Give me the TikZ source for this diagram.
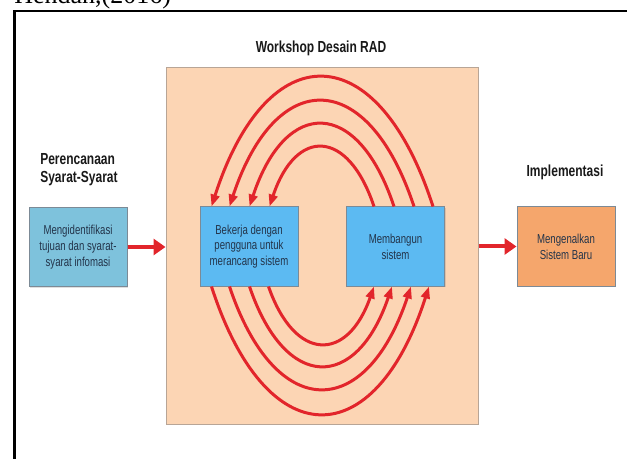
\documentclass[tikz,border=0pt]{standalone}
\usepackage{fontspec}
\setmainfont{Liberation Serif}
\newfontfamily\nf[FakeStretch=0.74]{Liberation Sans}
\newfontfamily\hf[FakeStretch=0.75]{Liberation Sans}
\usetikzlibrary{arrows.meta,calc,shadows}
\definecolor{peach}{HTML}{FCD5B4}
\definecolor{peachline}{HTML}{B8A596}
\definecolor{lblue}{HTML}{7EC2DC}
\definecolor{sky}{HTML}{5CBAF2}
\definecolor{orng}{HTML}{F5A66C}
\definecolor{boxline}{HTML}{7C8A96}
\definecolor{boxtext}{HTML}{23344A}
\definecolor{rad}{HTML}{E2252B}
\begin{document}
\begin{tikzpicture}[x=0.75pt,y=-0.75pt,
  box/.style={draw=boxline, line width=0.75pt, minimum width=73.5pt, minimum height=59.25pt,
    inner sep=0pt, align=center, font=\nf\fontsize{9.75}{11.8}\selectfont, text=boxtext,
    drop shadow={opacity=0.25, shadow xshift=1pt, shadow yshift=-1pt}},
  head/.style={font=\hf\bfseries\fontsize{12}{13.5}\selectfont, inner sep=0pt, text=black!90},
  arcline/.style={draw=rad, line width=2.25pt, -{Triangle[length=9pt,width=6.5pt]}},
  bigarrow/.style={draw=rad, line width=3pt, -{Triangle[length=9pt,width=12pt]}}]
\useasboundingbox (0,0) rectangle (627,459);
% caption text cut off at top
\node[anchor=base west, inner sep=0pt, font=\fontsize{19.5}{20}\selectfont] (cap) at (14,4) {Hendan,(2016)};
% frame
\draw[line width=1.9pt] (14.5,459) -- (14.5,11) -- (627,11);
% workshop box
\node[draw=peachline, line width=0.75pt, fill=peach, minimum width=234pt, minimum height=267pt,
  inner sep=0pt, drop shadow={opacity=0.12, shadow xshift=1pt, shadow yshift=-1pt}] (ws) at (322,246) {};
\node[head] (title) at (321,48) {Workshop Desain RAD};
\node[head, anchor=north west, align=left] (plan) at (40,153) {Perencanaan\\Syarat-Syarat};
\node[head, anchor=north] (impl) at (565,165) {Implementasi};
% boxes
\node[box, fill=lblue] (req) at (78,247) {Mengidentifikasi\\tujuan dan syarat-\\syarat infomasi};
\node[box, fill=sky] (bek) at (249,246.5) {Bekerja dengan\\pengguna untuk\\merancang sistem};
\node[box, fill=sky] (mem) at (395.5,246.5) {Membangun\\sistem};
\node[box, fill=orng] (new) at (566,246.5) {Mengenalkan\\Sistem Baru};
% straight arrows
\draw[bigarrow] (req.east) -- (req.east -| ws.west);
\draw[bigarrow] (new.west -| ws.east) -- (new.west);
% upper arcs: from Membangun back to Bekerja
\foreach \s/\e/\h in {28/70/59, 48/50/82, 68/30/105, 87/12/129}{
  \pgfmathsetmacro\a{0.5*(147+\s-\e)/2}
  \pgfmathsetmacro\b{4/3*\h}
  \draw[arcline] ($(mem.north west)+(\s,0)$) .. controls +(-\a,-\b) and +(\a,-\b) .. ($(bek.north west)+(\e,0)$);
}
% lower arcs: from Bekerja to Membangun
\foreach \e/\s/\h in {69/28/57, 50/46/79, 30/65/102, 12/83/127}{
  \pgfmathsetmacro\a{0.5*(147+\s-\e)/2}
  \pgfmathsetmacro\b{4/3*\h}
  \draw[arcline] ($(bek.south west)+(\e,0)$) .. controls +(\a,\b) and +(-\a,\b) .. ($(mem.south west)+(\s,0)$);
}
\end{tikzpicture}
\end{document}
